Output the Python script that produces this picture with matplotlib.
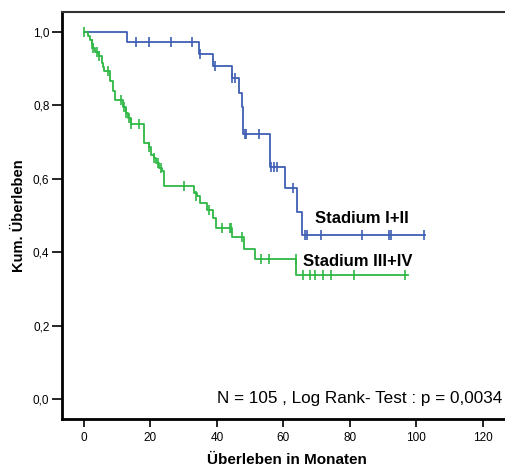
import matplotlib
matplotlib.use("Agg")
import numpy as np
import matplotlib.pyplot as plt

plt.rcParams['font.family'] = ['Liberation Sans', 'DejaVu Sans']

# Stadium I+II: event times (months) and survival after each step
blue_t = [0, 13.0, 34.6, 38.9, 44.4, 46.6, 47.5, 47.8, 56.1, 60.5, 64.2, 65.5, 102.7]
blue_s = [1.0, 0.973, 0.941, 0.908, 0.874, 0.835, 0.797, 0.722, 0.633, 0.574, 0.510, 0.447, 0.447]
blue_cens_t = [15.8, 19.5, 26.1, 32.4, 34.8, 39.4, 44.6, 45.3, 48.4, 48.9, 52.7,
               56.3, 57.3, 58.2, 63.0, 66.6, 67.0, 71.2, 83.7, 91.8, 92.5, 102.3]
blue_cens_s = [0.973, 0.973, 0.973, 0.973, 0.941, 0.908, 0.874, 0.874, 0.722, 0.722, 0.722,
               0.633, 0.633, 0.633, 0.574, 0.447, 0.447, 0.447, 0.447, 0.447, 0.447, 0.447]

# Stadium III+IV
green_t = [0, 1.3, 1.8, 2.3, 2.8, 3.4, 4.5, 5.3, 5.8, 6.0, 7.8, 8.6, 9.3, 11.7, 12.7,
           13.2, 14.2, 18.0, 19.6, 20.1, 21.1, 21.6, 22.6, 23.6, 24.2, 33.0, 34.0, 35.0,
           37.1, 38.8, 39.7, 44.6, 48.3, 51.6, 63.7, 97.6]
green_s = [1.0, 0.989, 0.978, 0.967, 0.956, 0.945, 0.934, 0.915, 0.905, 0.894, 0.866,
           0.840, 0.815, 0.797, 0.779, 0.765, 0.749, 0.698, 0.688, 0.665, 0.656, 0.643,
           0.630, 0.620, 0.580, 0.560, 0.552, 0.535, 0.515, 0.492, 0.467, 0.441, 0.409,
           0.381, 0.338, 0.338]
green_cens_t = [0, 2.3, 2.8, 3.8, 4.6, 7.3, 11.2, 12.2, 12.7, 13.7, 14.2, 16.7, 19.7, 21.2,
                22.2, 23.2, 30.2, 33.6, 37.5, 41.6, 43.8, 44.3, 47.6, 53.2, 55.7, 63.8,
                66.0, 68.1, 69.5, 71.9, 74.2, 81.2, 96.6]
green_cens_s = [1.0, 0.967, 0.956, 0.945, 0.934, 0.894, 0.815, 0.797, 0.779, 0.765, 0.749,
                0.749, 0.688, 0.656, 0.643, 0.630, 0.580, 0.552, 0.515, 0.467, 0.467, 0.467,
                0.441, 0.381, 0.381, 0.381, 0.338, 0.338, 0.338, 0.338, 0.338, 0.338, 0.338]

x_ticks = [0, 20, 40, 60, 80, 100, 120]
y_ticks = [0.0, 0.2, 0.4, 0.6, 0.8, 1.0]
y_labels = ['0,0', '0,2', '0,4', '0,6', '0,8', '1,0']

blue = '#3f5fb4'
green = '#2fb845'

fig = plt.figure(figsize=(5.06, 4.66), dpi=100)
ax = fig.add_axes([62 / 506, 47 / 466, 1.0 - 62 / 506 + 0.01, 407 / 466])

ax.step(blue_t, blue_s, where='post', color=blue, lw=1.3)
ax.plot(blue_cens_t, blue_cens_s, ls='none', marker='|', ms=7, mew=1.2, color=blue)
ax.step(green_t, green_s, where='post', color=green, lw=1.3)
ax.plot(green_cens_t, green_cens_s, ls='none', marker='|', ms=7, mew=1.2, color=green)

ax.set_xlim(-6.6, 128.5)
ax.set_ylim(-0.0545, 1.0545)
ax.set_xticks(x_ticks)
ax.set_yticks(y_ticks)
ax.set_yticklabels(y_labels)
ax.tick_params(axis='y', length=7, width=1.2, pad=2, labelsize=8.5)
ax.tick_params(axis='x', length=5.5, width=1.2, pad=4, labelsize=8.5)

ax.spines['left'].set_linewidth(2)
ax.spines['bottom'].set_linewidth(2)
ax.spines['top'].set_linewidth(1.5)
ax.spines['top'].set_color('#333333')
ax.spines['right'].set_visible(False)

ax.set_ylabel('Kum. Überleben', fontweight='bold', fontsize=10.5, labelpad=5)
ax.set_xlabel('Überleben in Monaten', fontweight='bold', fontsize=11, labelpad=6)

ax.text(69.6, 0.493, 'Stadium I+II', fontweight='bold', fontsize=12, va='center', ha='left')
ax.text(66.0, 0.376, 'Stadium III+IV', fontweight='bold', fontsize=12, va='center', ha='left')
ax.text(125.8, 0.0, 'N = 105 , Log Rank- Test : p = 0,0034', fontsize=12.3,
        va='center', ha='right')

fig.savefig('out.png', dpi=100, facecolor='white')
